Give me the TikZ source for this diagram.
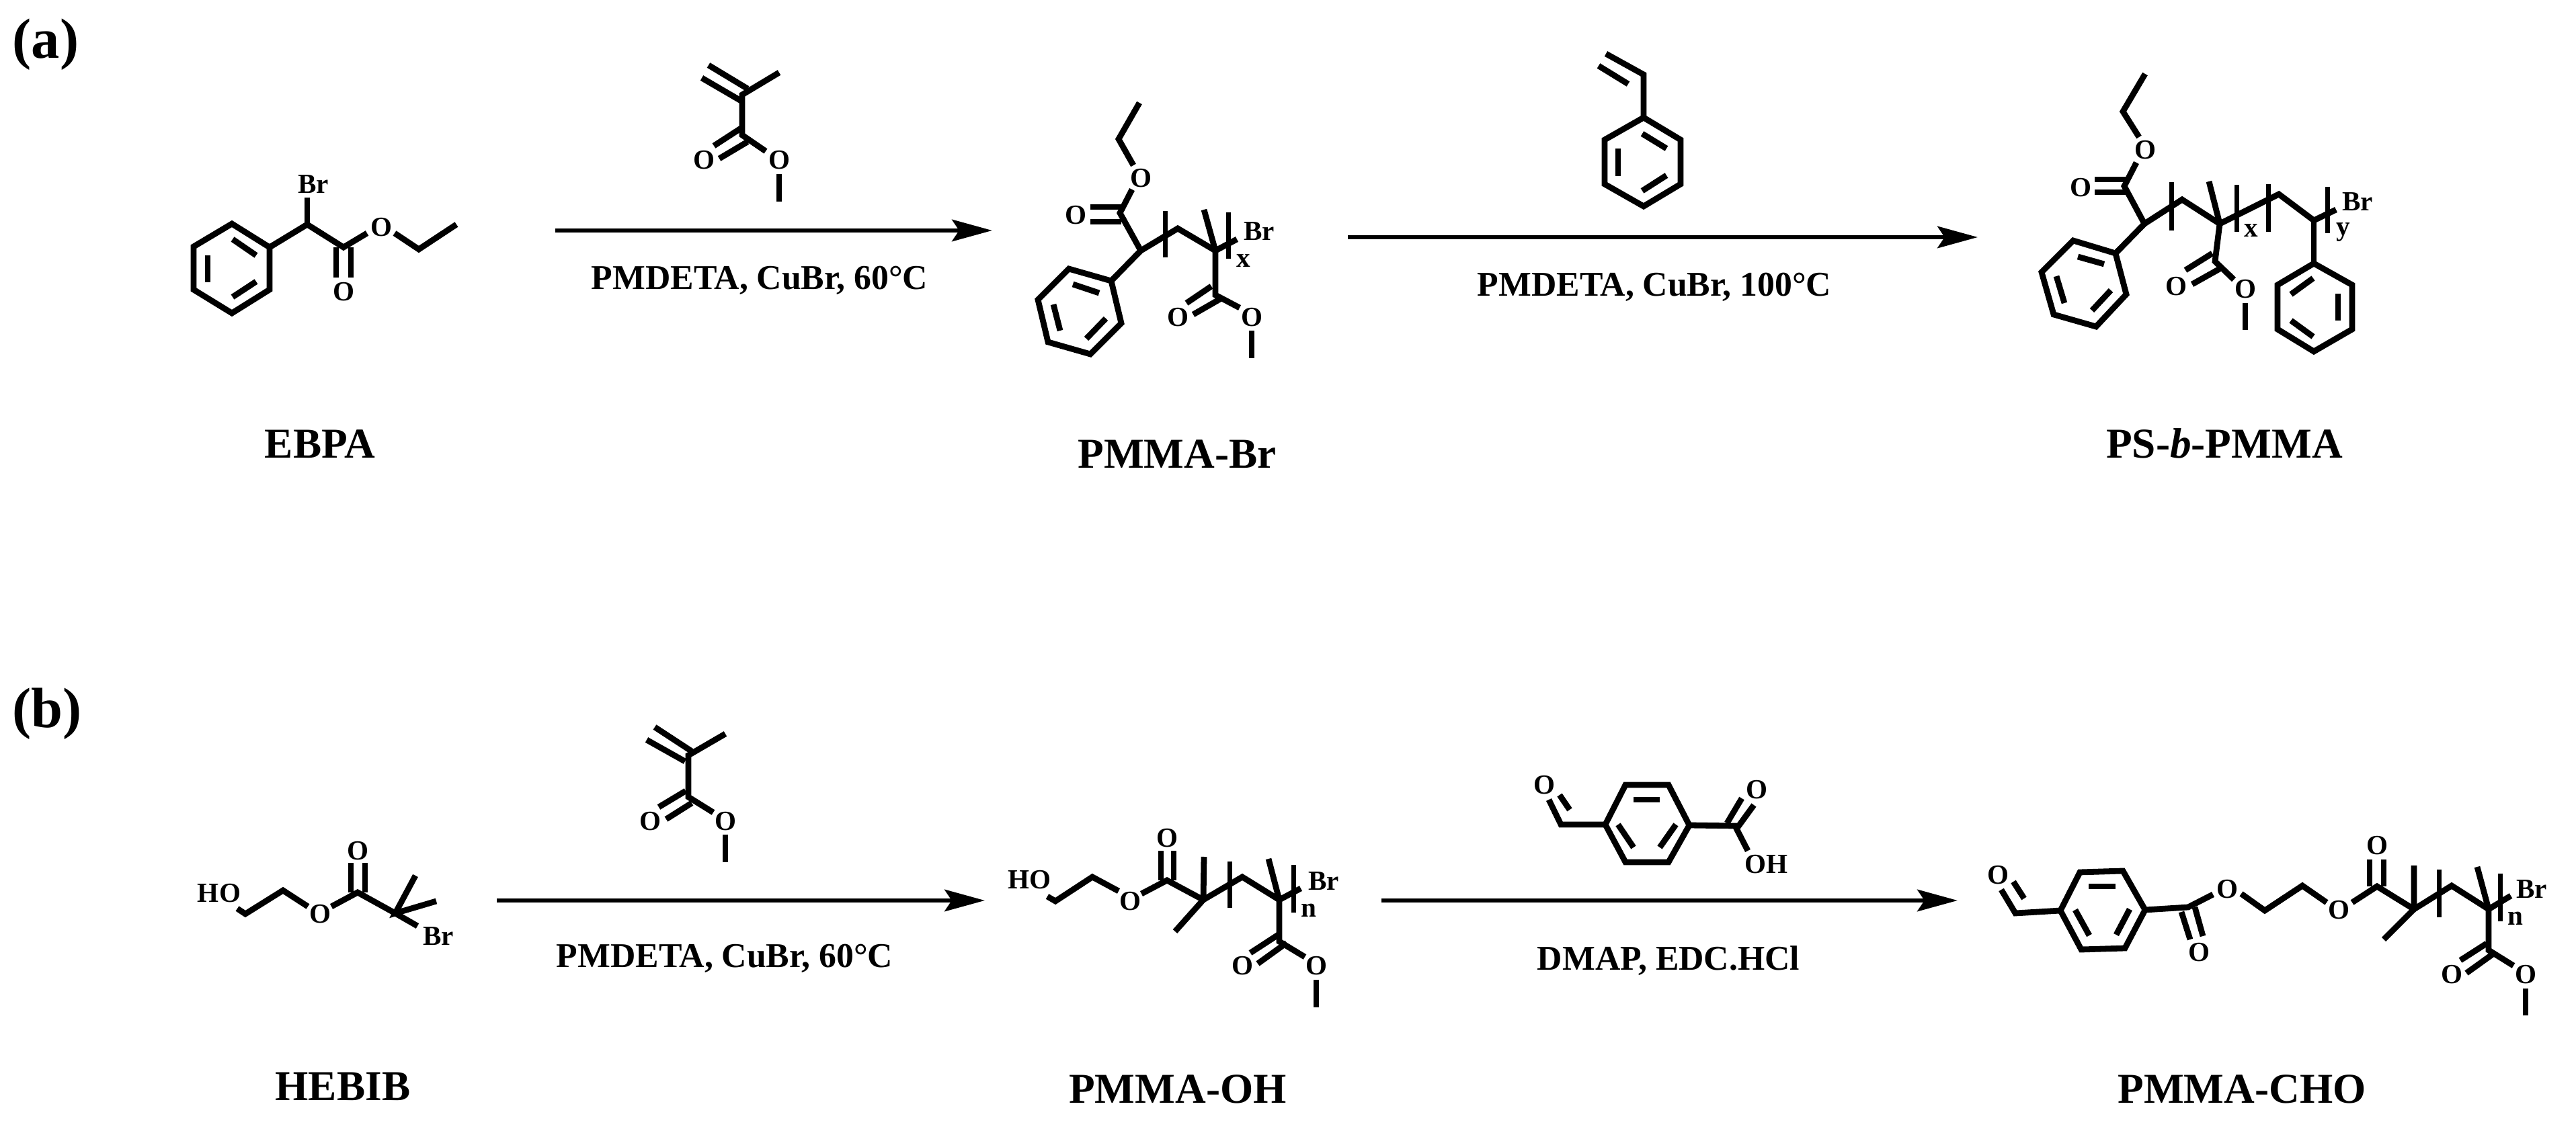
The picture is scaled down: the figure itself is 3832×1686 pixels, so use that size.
\documentclass[tikz,border=0pt]{standalone}
\usepackage{fontspec}
\setmainfont{Liberation Serif}
\usetikzlibrary{arrows.meta}
\tikzset{
	bond/.style={line width=2.5pt},
	brack/.style={line width=2pt},
	atom/.style={font=\bfseries\fontsize{11.7}{13}\selectfont,inner sep=0pt},
	cond/.style={font=\bfseries\fontsize{14.7}{16}\selectfont,inner sep=0pt,anchor=base},
	cmpd/.style={font=\bfseries\fontsize{18}{20}\selectfont,inner sep=0pt,anchor=base},
	panel/.style={font=\bfseries\fontsize{24}{26}\selectfont,inner sep=0pt},
	rxn/.style={line width=1.85pt,-{Stealth[length=17pt,width=9.2pt,inset=3pt]}}
}
\begin{document}
\begin{tikzpicture}[x=0.01cm,y=-0.01cm]
	\useasboundingbox (0,0) rectangle (3832,1686);

	\node[panel] (panelA) at (68,66) {(a)};
	\node[panel] (panelB) at (70,1062) {(b)};

	% EBPA
	\draw[bond] (345,333) -- (401,368) -- (401,431) -- (345,466) -- (288,431) -- (288,367) -- cycle;
	\foreach \xa/\ya/\xb/\yb in {346/356/381/380, 309/380/309/420, 346/442/381/419} {
		\draw[bond] (\xa,\ya) -- (\xb,\yb);
	}
	\draw[bond] (401,368) -- (457,334) -- (511,368) -- (546,347);
	\draw[bond] (457,334) -- (457,294);
	\draw[bond] (500,368) -- (500,413);
	\draw[bond] (522,368) -- (522,413);
	\draw[bond] (587,347) -- (623,371) -- (679,334);
	\node[atom] (brA) at (466,274) {Br};
	\node[atom] (oA) at (511,434) {O};
	\node[atom] (oB) at (567,338) {O};
	\node[cmpd] (ebpa) at (476,682) {EBPA};

	% monomer, step 1
	\draw[bond] (1054,97) -- (1112,132);
	\draw[bond] (1044,116) -- (1104,151);
	\draw[bond] (1159,108) -- (1104,141) -- (1104,201) -- (1139,225);
	\draw[bond] (1102,191) -- (1062,217);
	\draw[bond] (1112,211) -- (1070,236);
	\draw[bond] (1159,259) -- (1159,300);
	\node[atom] (oC) at (1047,238) {O};
	\node[atom] (oD) at (1159,238) {O};

	\coordinate (arrAs) at (826,343);
	\coordinate (arrAe) at (1476,343);
	\draw[rxn] (arrAs) -- (arrAe);
	\node[cond] (condA) at (1130,431) {PMDETA, CuBr, 60°C};

	% PMMA-Br
	\draw[bond] (1695,153) -- (1664,207) -- (1686,246);
	\draw[bond] (1684,282) -- (1666,317) -- (1697,373) -- (1653,418);
	\draw[bond] (1622,308) -- (1668,308);
	\draw[bond] (1622,330) -- (1668,330);
	\draw[bond] (1653,418) -- (1590,400) -- (1544,446) -- (1559,509) -- (1622,527) -- (1668,481) -- cycle;
	\foreach \xa/\ya/\xb/\yb in {1596/423/1635/436, 1567/453/1577/492, 1616/504/1645/474} {
		\draw[bond] (\xa,\ya) -- (\xb,\yb);
	}
	\draw[bond] (1697,373) -- (1752,340) -- (1808,373) -- (1840,356);
	\draw[bond] (1791,312) -- (1808,373) -- (1808,439) -- (1844,458);
	\draw[brack] (1733,314) -- (1733,383);
	\draw[brack] (1827,316) -- (1827,385);
	\draw[bond] (1802,426) -- (1765,451);
	\draw[bond] (1815,445) -- (1775,468);
	\draw[bond] (1862,492) -- (1862,533);
	\node[atom] (oE) at (1697,265) {O};
	\node[atom] (oF) at (1600,320) {O};
	\node[atom] (oG) at (1752,472) {O};
	\node[atom] (oH) at (1862,472) {O};
	\node[atom] (brB) at (1873,344) {Br};
	\node[atom] (xA) at (1850,388) {x};
	\node[cmpd] (pmmaBr) at (1751,697) {PMMA-Br};

	% styrene
	\draw[bond] (2389,80) -- (2445,111) -- (2445,175);
	\draw[bond] (2378,98) -- (2422,125);
	\draw[bond] (2445,175) -- (2500,208) -- (2500,274) -- (2445,307) -- (2387,274) -- (2387,208) -- cycle;
	\foreach \xa/\ya/\xb/\yb in {2443/199/2479/221, 2407/221/2407/262, 2443/284/2479/261} {
		\draw[bond] (\xa,\ya) -- (\xb,\yb);
	}

	\coordinate (arrBs) at (2005,353);
	\coordinate (arrBe) at (2942,353);
	\draw[rxn] (arrBs) -- (arrBe);
	\node[cond] (condB) at (2461,441) {PMDETA, CuBr, 100°C};

	% PS-b-PMMA
	\draw[bond] (3191,110) -- (3158,166) -- (3182,204);
	\draw[bond] (3178,242) -- (3160,277) -- (3190,333) -- (3147,377);
	\draw[bond] (3116,267) -- (3162,267);
	\draw[bond] (3116,286) -- (3162,286);
	\draw[bond] (3147,377) -- (3084,358) -- (3037,405) -- (3055,468) -- (3118,486) -- (3163,438) -- cycle;
	\foreach \xa/\ya/\xb/\yb in {3091/382/3130/393, 3059/411/3071/451, 3112/462/3140/432} {
		\draw[bond] (\xa,\ya) -- (\xb,\yb);
	}
	\draw[bond] (3190,333) -- (3246,297) -- (3302,333) -- (3390,289) -- (3442,328) -- (3475,312);
	\draw[bond] (3286,270) -- (3302,333) -- (3295,389) -- (3323,416);
	\foreach \xb/\ya/\yb in {3230/271/343, 3327/275/345, 3374/274/345, 3462/278/347} {
		\draw[brack] (\xb,\ya) -- (\xb,\yb);
	}
	\draw[bond] (3291,377) -- (3251,402);
	\draw[bond] (3302,400) -- (3261,423);
	\draw[bond] (3340,451) -- (3340,491);
	\draw[bond] (3442,328) -- (3442,392);
	\draw[bond] (3442,392) -- (3499,424) -- (3499,490) -- (3442,523) -- (3388,490) -- (3388,424) -- cycle;
	\foreach \xa/\ya/\xb/\yb in {3441/414/3408/438, 3478/437/3478/477, 3408/477/3441/501} {
		\draw[bond] (\xa,\ya) -- (\xb,\yb);
	}
	\node[atom] (oI) at (3191,223) {O};
	\node[atom] (oJ) at (3095,279) {O};
	\node[atom] (oK) at (3237,426) {O};
	\node[atom] (oL) at (3340,430) {O};
	\node[atom] (xB) at (3349,343) {x};
	\node[atom] (yA) at (3486,346) {y};
	\node[atom] (brC) at (3507,300) {Br};
	\node[cmpd] (psPmma) at (3309,682) {PS-\textit{b}-PMMA};

	% HEBIB
	\draw[bond] (353,1352) -- (365,1360) -- (421,1325) -- (458,1349);
	\draw[bond] (493,1349) -- (532,1328) -- (588,1359) -- (621,1378);
	\draw[bond] (522,1328) -- (522,1284);
	\draw[bond] (543,1328) -- (543,1284);
	\draw[bond] (618,1303) -- (588,1359) -- (649,1341);
	\node[atom] (hoA) at (326,1329) {HO};
	\node[atom] (oM) at (476,1360) {O};
	\node[atom] (oN) at (532,1266) {O};
	\node[atom] (brD) at (652,1393) {Br};
	\node[cmpd] (hebib) at (510,1637) {HEBIB};

	% monomer, step 3
	\draw[bond] (974,1082) -- (1029,1118);
	\draw[bond] (962,1101) -- (1019,1133);
	\draw[bond] (1079,1092) -- (1024,1124) -- (1024,1186) -- (1061,1209);
	\draw[bond] (1020,1177) -- (980,1201);
	\draw[bond] (1029,1195) -- (991,1219);
	\draw[bond] (1079,1242) -- (1079,1283);
	\node[atom] (oO) at (967,1222) {O};
	\node[atom] (oP) at (1079,1222) {O};

	\coordinate (arrCs) at (739,1340);
	\coordinate (arrCe) at (1465,1340);
	\draw[rxn] (arrCs) -- (arrCe);
	\node[cond] (condC) at (1078,1440) {PMDETA, CuBr, 60°C};

	% PMMA-OH
	\draw[bond] (1558,1334) -- (1570,1341) -- (1625,1305) -- (1664,1326);
	\draw[bond] (1698,1330) -- (1736,1310) -- (1790,1339) -- (1848,1305) -- (1903,1339) -- (1935,1322);
	\draw[bond] (1727,1310) -- (1727,1266);
	\draw[bond] (1746,1310) -- (1746,1266);
	\draw[bond] (1791,1275) -- (1790,1339) -- (1748,1386);
	\draw[bond] (1887,1278) -- (1903,1339) -- (1903,1401) -- (1941,1424);
	\draw[brack] (1829,1282) -- (1829,1351);
	\draw[brack] (1924,1287) -- (1924,1358);
	\draw[bond] (1903,1390) -- (1860,1418);
	\draw[bond] (1914,1403) -- (1871,1434);
	\draw[bond] (1958,1458) -- (1958,1499);
	\node[atom] (hoB) at (1531,1309) {HO};
	\node[atom] (oQ) at (1681,1341) {O};
	\node[atom] (oR) at (1736,1247) {O};
	\node[atom] (oS) at (1848,1437) {O};
	\node[atom] (oT) at (1958,1437) {O};
	\node[atom] (brE) at (1969,1311) {Br};
	\node[atom] (nA) at (1947,1355) {n};
	\node[cmpd] (pmmaOh) at (1752,1642) {PMMA-OH};

	% 4-formylbenzoic acid
	\draw[bond] (2304,1190) -- (2322,1227) -- (2388,1227);
	\draw[bond] (2320,1183) -- (2335,1205);
	\draw[bond] (2388,1227) -- (2418,1168) -- (2482,1168) -- (2513,1228) -- (2482,1283) -- (2418,1283) -- cycle;
	\foreach \xa/\ya/\xb/\yb in {2430/1190/2469/1190, 2407/1227/2430/1261, 2493/1227/2469/1261} {
		\draw[bond] (\xa,\ya) -- (\xb,\yb);
	}
	\draw[bond] (2513,1228) -- (2581,1229) -- (2600,1266);
	\draw[bond] (2569,1225) -- (2591,1188);
	\draw[bond] (2585,1231) -- (2609,1198);
	\node[atom] (oU) at (2297,1168) {O};
	\node[atom] (oV) at (2613,1175) {O};
	\node[atom] (ohA) at (2627,1286) {OH};

	\coordinate (arrDs) at (2055,1340);
	\coordinate (arrDe) at (2912,1340);
	\draw[rxn] (arrDs) -- (arrDe);
	\node[cond] (condD) at (2482,1444) {DMAP, EDC.HCl};

	% PMMA-CHO
	\draw[bond] (2977,1324) -- (2998,1359) -- (3065,1355);
	\draw[bond] (2995,1312) -- (3011,1337);
	\draw[bond] (3065,1355) -- (3094,1298) -- (3158,1296) -- (3191,1354) -- (3161,1411) -- (3096,1413) -- cycle;
	\foreach \xa/\ya/\xb/\yb in {3107/1319/3147/1319, 3087/1354/3108/1392, 3168/1353/3148/1391} {
		\draw[bond] (\xa,\ya) -- (\xb,\yb);
	}
	\draw[bond] (3191,1354) -- (3255,1350) -- (3292,1331);
	\draw[bond] (3245,1357) -- (3258,1398);
	\draw[bond] (3265,1350) -- (3277,1393);
	\draw[bond] (3334,1330) -- (3369,1355) -- (3425,1318) -- (3461,1343);
	\draw[bond] (3499,1343) -- (3536,1319) -- (3591,1353) -- (3647,1318) -- (3702,1353) -- (3735,1333);
	\draw[bond] (3525,1319) -- (3525,1279);
	\draw[bond] (3546,1319) -- (3546,1279);
	\draw[bond] (3591,1288) -- (3591,1353) -- (3546,1398);
	\draw[bond] (3685,1290) -- (3702,1353) -- (3702,1414) -- (3739,1437);
	\draw[brack] (3628,1294) -- (3628,1365);
	\draw[brack] (3719,1300) -- (3719,1371);
	\draw[bond] (3699,1404) -- (3660,1429);
	\draw[bond] (3708,1420) -- (3669,1448);
	\draw[bond] (3757,1471) -- (3757,1511);
	\node[atom] (oW) at (2972,1302) {O};
	\node[atom] (oX) at (3271,1417) {O};
	\node[atom] (oY) at (3313,1323) {O};
	\node[atom] (oZ) at (3479,1354) {O};
	\node[atom] (oAA) at (3536,1258) {O};
	\node[atom] (oAB) at (3647,1450) {O};
	\node[atom] (oAC) at (3757,1450) {O};
	\node[atom] (brF) at (3766,1323) {Br};
	\node[atom] (nB) at (3742,1367) {n};
	\node[cmpd] (pmmaCho) at (3335,1642) {PMMA-CHO};
\end{tikzpicture}
\end{document}
